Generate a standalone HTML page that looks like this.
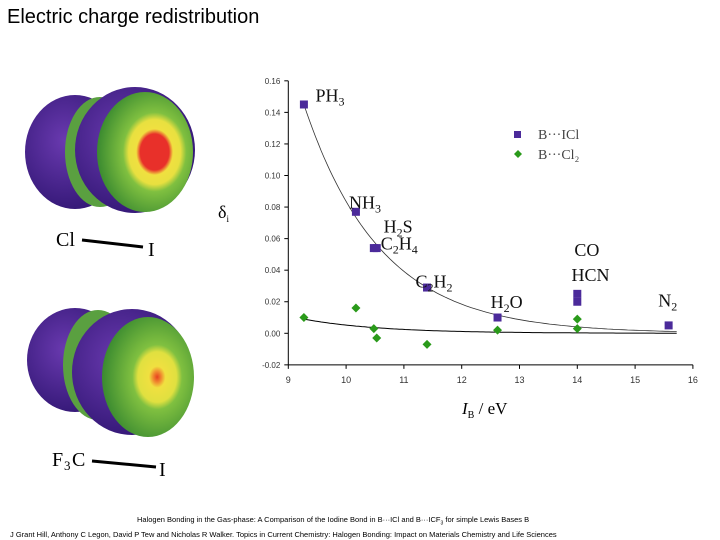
<!DOCTYPE html>
<html><head><meta charset="utf-8"><style>
body{margin:0;background:#fff;width:720px;height:540px;overflow:hidden;font-family:"Liberation Sans",sans-serif}
.t{position:absolute;left:7px;top:6px;font-size:20px;color:#000}
.cap{position:absolute;font-size:7.5px;color:#000;white-space:nowrap}
</style></head><body>
<div class="t">Electric charge redistribution</div>
<svg width="720" height="540" style="position:absolute;left:0;top:0">
<defs>
<radialGradient id="pu" cx="0.4" cy="0.4" r="0.7"><stop offset="0" stop-color="#6a3ab0"/><stop offset="1" stop-color="#2e1470"/></radialGradient>
<radialGradient id="g1" cx="0.6" cy="0.5" r="0.6"><stop offset="0" stop-color="#e8302a"/><stop offset="0.25" stop-color="#e8302a"/><stop offset="0.32" stop-color="#f0e040"/><stop offset="0.45" stop-color="#e8e040"/><stop offset="0.55" stop-color="#80c040"/><stop offset="1" stop-color="#3a8a30"/></radialGradient>
<radialGradient id="g2" cx="0.6" cy="0.5" r="0.6"><stop offset="0" stop-color="#e84020"/><stop offset="0.08" stop-color="#f09030"/><stop offset="0.15" stop-color="#f0e040"/><stop offset="0.35" stop-color="#e0e040"/><stop offset="0.45" stop-color="#80c040"/><stop offset="1" stop-color="#3a8a30"/></radialGradient>
</defs>
<g>
<ellipse cx="75" cy="152" rx="50" ry="57" fill="url(#pu)"/>
<ellipse cx="100" cy="152" rx="35" ry="55" fill="#5aa040"/>
<ellipse cx="135" cy="150" rx="60" ry="63" fill="url(#pu)"/>
<ellipse cx="145" cy="152" rx="48" ry="60" fill="url(#g1)"/>
<text x="56" y="246" font-family="Liberation Serif" font-size="20">Cl</text>
<line x1="82" y1="240" x2="143" y2="247" stroke="#000" stroke-width="3"/>
<text x="148" y="256" font-family="Liberation Serif" font-size="20">I</text>
</g>
<g>
<ellipse cx="75" cy="360" rx="48" ry="52" fill="url(#pu)"/>
<ellipse cx="98" cy="365" rx="35" ry="55" fill="#5aa040"/>
<ellipse cx="132" cy="372" rx="60" ry="63" fill="url(#pu)"/>
<ellipse cx="148" cy="377" rx="46" ry="60" fill="url(#g2)"/>
<text x="52" y="466" font-family="Liberation Serif" font-size="20">F</text><text x="64" y="470" font-family="Liberation Serif" font-size="13">3</text><text x="72" y="466" font-family="Liberation Serif" font-size="20">C</text>
<line x1="92" y1="461" x2="156" y2="467" stroke="#000" stroke-width="3"/>
<text x="159" y="476" font-family="Liberation Serif" font-size="20">I</text>
</g>
</svg>
<svg id="ch" width="720" height="540" style="position:absolute;left:0;top:0"></svg>
<div class="cap" style="left:137px;top:515px">Halogen Bonding in the Gas-phase: A Comparison of the Iodine Bond in B···ICl and B···ICF<sub style="font-size:5px">3</sub> for simple Lewis Bases B</div>
<div class="cap" style="left:10px;top:530px">J Grant Hill, Anthony C Legon, David P Tew and Nicholas R Walker. Topics in Current Chemistry: Halogen Bonding: Impact on Materials Chemistry and Life Sciences</div>
<script>
const xTicks=[9,10,11,12,13,14,15,16];
const yTicks=[-0.02,0,0.02,0.04,0.06,0.08,0.10,0.12,0.14,0.16];
const iclX=[9.27,10.17,10.48,10.53,11.4,12.62,14.0,14.0,15.58];
const iclY=[0.145,0.077,0.054,0.054,0.029,0.010,0.025,0.020,0.005];
const cl2X=[9.27,10.17,10.48,10.53,11.4,12.62,14.0,14.0];
const cl2Y=[0.010,0.016,0.003,-0.003,-0.007,0.002,0.009,0.003];
const labels=[["PH","3",9.47,0.147],["NH","3",10.05,0.079],["H","2","S",10.65,0.064],["C","2","H","4",10.6,0.053],["C","2","H","2",11.2,0.029],["H","2","O",12.5,0.016],["CO","",13.95,0.049],["HCN","",13.9,0.033],["N","2",15.4,0.017]];
const X=v=>288.3+(v-9)*57.8, Y=v=>333.3-v*1578;
const s=document.getElementById('ch'),NS='http://www.w3.org/2000/svg';
function mk(t,a,p){const e=document.createElementNS(NS,t);for(const k in a)e.setAttribute(k,a[k]);(p||s).appendChild(e);return e;}
let e=mk('line',{x1:X(9),y1:Y(-0.02),x2:X(16),y2:Y(-0.02),stroke:'#000','stroke-width':1});


e=mk('line',{x1:X(9),y1:Y(-0.02),x2:X(9),y2:Y(0.16),stroke:'#000','stroke-width':1});


xTicks.forEach(v=>{mk('line',{x1:X(v),y1:Y(-0.02),x2:X(v),y2:Y(-0.02)+4,stroke:'#000'});
 e=mk('text',{x:X(v),y:Y(-0.02)+18,'font-size':9,'text-anchor':'middle',fill:'#333'});e.textContent=v;
 
 });
yTicks.forEach(v=>{mk('line',{x1:X(9)-4,y1:Y(v),x2:X(9),y2:Y(v),stroke:'#000'});
 e=mk('text',{x:X(9)-8,y:Y(v)+3,'font-size':8,'text-anchor':'end',fill:'#333'});e.textContent=v.toFixed(2);
 
 });
let d='';for(let x=9.27;x<=15.75;x+=0.05){d+=(d?'L':'M')+X(x).toFixed(1)+','+Y(0.145*Math.exp(-0.755*(x-9.27))).toFixed(1);}
e=mk('path',{d:d,fill:'none',stroke:'#333','stroke-width':0.8});


d='';for(let x=9.27;x<=15.75;x+=0.05){d+=(d?'L':'M')+X(x).toFixed(1)+','+Y(0.009*Math.exp(-0.75*(x-9.27))).toFixed(1);}
e=mk('path',{d:d,fill:'none',stroke:'#000','stroke-width':1});


iclX.forEach((x,i)=>{e=mk('rect',{x:X(x)-4,y:Y(iclY[i])-4,width:8,height:8,fill:'#4b2a9a'});
 
 });
cl2X.forEach((x,i)=>{const cx=X(x),cy=Y(cl2Y[i]);e=mk('polygon',{points:`${cx},${cy-4.5} ${cx+4.5},${cy} ${cx},${cy+4.5} ${cx-4.5},${cy}`,fill:'#2a9a1a'});
 
 });
labels.forEach(l=>{const n=l.length;const x=l[n-2],y=l[n-1];const t=mk('text',{x:X(x),y:Y(y),'font-size':18,'font-family':'Liberation Serif',fill:'#111'});
 
 
 for(let i=0;i<n-2;i++){const ts=mk('tspan',{},t);ts.textContent=l[i];if(i%2==1){ts.setAttribute('font-size',12);ts.setAttribute('dy',4);}else if(i>0){ts.setAttribute('dy',-4);}}});
e=mk('rect',{x:514,y:131,width:7,height:7,fill:'#4b2a9a'});


e=mk('text',{x:538,y:139,'font-size':14,'font-family':'Liberation Serif',fill:'#444'});e.textContent='B···ICl';


e=mk('polygon',{points:'518,150 522,154 518,158 514,154',fill:'#2a9a1a'});


e=mk('text',{x:538,y:159,'font-size':14,'font-family':'Liberation Serif',fill:'#444'});e.textContent='B···Cl₂';


e=mk('text',{x:218,y:218,'font-size':18,'font-family':'Liberation Serif'});e.textContent='δ';


mk('tspan',{'font-size':9,dy:4},e).textContent='i';
e=mk('text',{x:462,y:414,'font-size':17,'font-family':'Liberation Serif'});


mk('tspan',{'font-style':'italic'},e).textContent='I';
mk('tspan',{'font-size':10,dy:4},e).textContent='B';
mk('tspan',{dy:-4},e).textContent=' / eV';
</script>
</body></html>
